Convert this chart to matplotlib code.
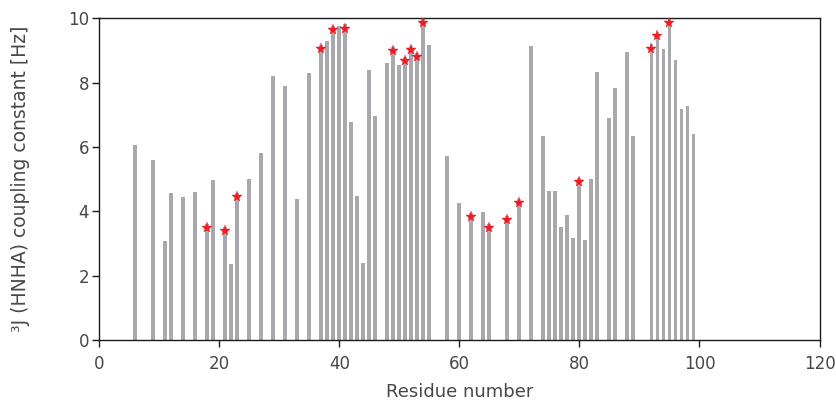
import matplotlib
matplotlib.use("Agg")
import matplotlib.pyplot as plt
import matplotlib.transforms as mtransforms

plt.rcParams['font.family'] = ['DejaVu Sans']

# Residue numbers and measured 3J(HNHA) coupling constants [Hz]
residues = [6, 9, 11, 12, 14, 16, 18, 19, 21, 22, 23, 25, 27, 29, 31,
            33, 35, 37, 38, 39, 40, 41, 42, 43, 44, 45, 46, 48, 49, 50,
            51, 52, 53, 54, 55, 58, 60, 62, 64, 65, 68, 70, 72, 74, 75,
            76, 77, 78, 79, 80, 81, 82, 83, 85, 86, 88, 89, 92, 93, 94,
            95, 96, 97, 98, 99]
couplings = [6.06, 5.60, 3.09, 4.57, 4.45, 4.60, 3.61, 4.97, 3.51, 2.36, 4.58, 5.00, 5.81, 8.21, 7.90,
             4.38, 8.31, 9.17, 9.30, 9.76, 9.76, 9.81, 6.78, 4.48, 2.39, 8.39, 6.96, 8.62, 9.12, 8.55,
             8.79, 9.14, 8.93, 9.97, 9.17, 5.72, 4.27, 3.96, 3.99, 3.61, 3.85, 4.38, 9.14, 6.34, 4.63,
             4.63, 3.51, 3.89, 3.17, 5.03, 3.11, 5.00, 8.33, 6.90, 7.83, 8.95, 6.34, 9.19, 9.58, 9.05,
             9.97, 8.70, 7.18, 7.27, 6.40]

# Residues flagged with a star
starred = [18, 21, 23, 37, 39, 41, 49, 51, 52, 53, 54, 62, 65, 68, 70, 80, 92, 93, 95]

x_ticks = [0, 20, 40, 60, 80, 100, 120]
y_ticks = [0, 2, 4, 6, 8, 10]

text_color = '#474747'

fig = plt.figure(figsize=(8.36, 4.0), dpi=100)
ax = fig.add_axes([99.3 / 836, 1 - 340 / 400, (819.5 - 99.3) / 836, (340 - 18.3) / 400])

ax.bar(residues, couplings, width=0.65, color='#a9a9ad', zorder=2)

lookup = dict(zip(residues, couplings))
star_y = [lookup[r] for r in starred]
star_offset = mtransforms.ScaledTranslation(0, -3 / 72, fig.dpi_scale_trans)
ax.plot(starred, star_y, linestyle='none', marker='*', markersize=8,
        color='#ee1c25', markeredgewidth=0.3, zorder=3,
        transform=ax.transData + star_offset)

ax.set_xlim(0, 120)
ax.set_ylim(0, 10)
ax.set_xticks(x_ticks)
ax.set_yticks(y_ticks)
ax.tick_params(direction='out', length=5, width=1, colors='#1a1a1a',
               labelcolor=text_color, labelsize=12)
ax.tick_params(axis='x', pad=6)
ax.tick_params(axis='y', pad=2.5)
for s in ax.spines.values():
    s.set_color('#1a1a1a')
    s.set_linewidth(1)

ax.set_xlabel('Residue number', fontsize=13, color=text_color, labelpad=7)
ax.set_ylabel('³J (HNHA) coupling constant [Hz]', fontsize=13.5, color=text_color)
ax.yaxis.set_label_coords(-69 / (819.5 - 99.3), 0.5)

fig.savefig('out.png', dpi=100)
